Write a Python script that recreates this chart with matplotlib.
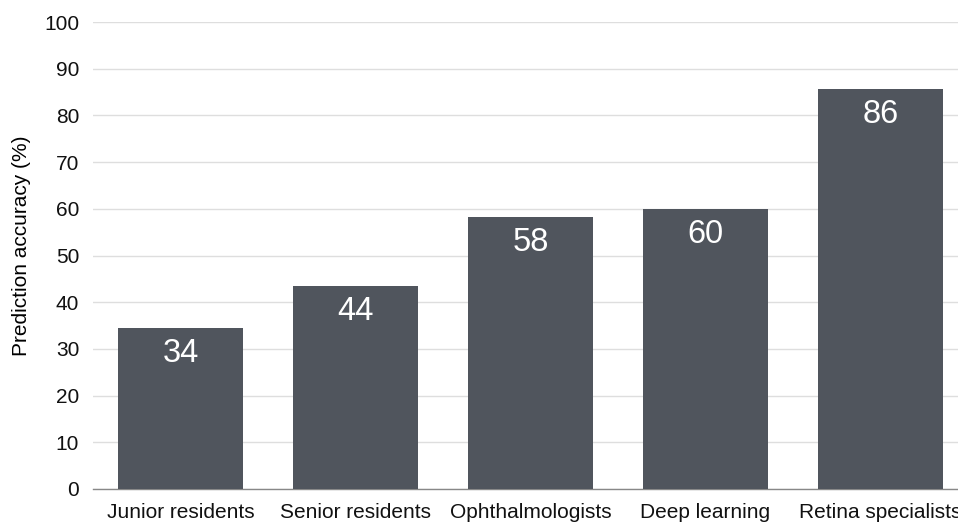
import matplotlib.pyplot as plt

categories = ["Junior residents", "Senior residents", "Ophthalmologists",
              "Deep learning", "Retina specialists"]
accuracy = [34.4, 43.5, 58.2, 60.0, 85.6]
labels = ["34", "44", "58", "60", "86"]
yticks = [0, 10, 20, 30, 40, 50, 60, 70, 80, 90, 100]

plt.rcParams["font.family"] = ["Liberation Sans", "DejaVu Sans"]

fig = plt.figure(figsize=(9.58, 5.24), dpi=100)
ax = fig.add_axes([0.0971, 0.0668, 0.913, 0.891])

x = range(len(categories))
bars = ax.bar(x, accuracy, width=0.714, color="#50555d", zorder=3)

# value labels inside the top of each bar
for bar, lab in zip(bars, labels):
    ax.annotate(lab, (bar.get_x() + bar.get_width() / 2, bar.get_height()),
                xytext=(0, -7), textcoords="offset points",
                ha="center", va="top", color="white", fontsize=23.5, zorder=4)

ax.set_xlim(-0.5, len(categories) - 0.5)
ax.set_ylim(0, 100)
ax.set_yticks(yticks)
ax.set_xticks(list(x))
ax.set_xticklabels(categories)
ax.tick_params(axis="both", length=0, labelsize=15, colors="#111111")
ax.tick_params(axis="y", pad=10)
ax.tick_params(axis="x", pad=10)
ax.grid(axis="y", color="#dedede", linewidth=1, zorder=0)
for side in ["top", "right", "left"]:
    ax.spines[side].set_visible(False)
ax.spines["bottom"].set_color("#888888")
ax.spines["bottom"].set_linewidth(1)
ax.set_ylabel("Prediction accuracy (%)", fontsize=15)
ax.yaxis.set_label_coords(-0.071, 0.522)

fig.savefig("out.png", dpi=100)
